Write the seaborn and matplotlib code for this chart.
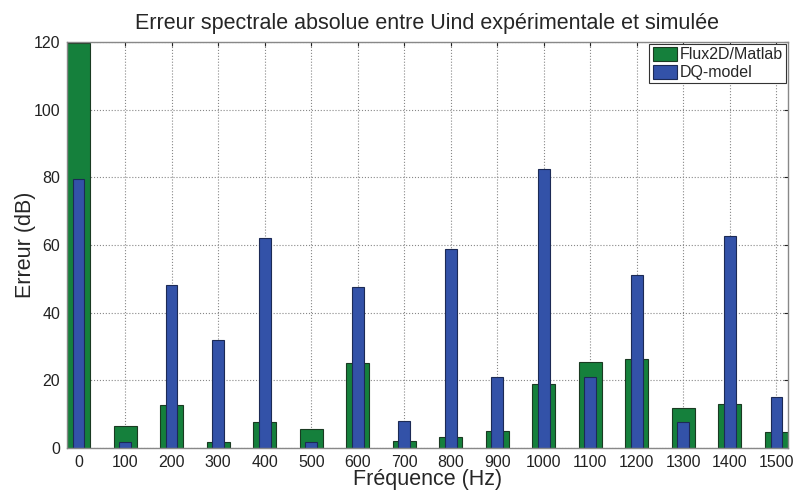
import pandas as pd
import seaborn as sns
import matplotlib.pyplot as plt

# spectral error per frequency
freqs = [0, 100, 200, 300, 400, 500, 600, 700, 800, 900, 1000, 1100, 1200, 1300, 1400, 1500]
flux2d = [119.6, 6.6, 12.7, 1.9, 7.8, 5.5, 25.1, 2.0, 3.2, 5.0, 18.8, 25.5, 26.3, 11.8, 12.9, 4.8]
dq_model = [79.4, 1.7, 48.3, 32.0, 62.0, 1.7, 47.6, 8.1, 58.7, 21.1, 82.6, 21.1, 51.2, 7.7, 62.8, 15.2]

df = pd.DataFrame({'freq': freqs, 'flux': flux2d, 'dq': dq_model})

sns.set_style("white")
plt.rcParams['font.family'] = ['Liberation Sans', 'DejaVu Sans']

fig = plt.figure(figsize=(7.94, 4.90), dpi=100)
ax = fig.add_axes([0.0844, 0.0857, 0.908, 0.8286])

sns.barplot(data=df, x='freq', y='flux', native_scale=True, width=0.5,
            color='#15803c', saturation=1, edgecolor='#1a3a22', linewidth=0.8,
            label='Flux2D/Matlab', ax=ax)
sns.barplot(data=df, x='freq', y='dq', native_scale=True, width=0.25,
            color='#3352a8', saturation=1, edgecolor='#1c2a55', linewidth=0.8,
            label='DQ-model', ax=ax)

ax.set_xlim(-25, 1525)
ax.set_ylim(0, 120)
ax.set_xticks(freqs)
ax.set_yticks(range(0, 121, 20))
ax.tick_params(direction='in', labelsize=11.5, length=3, colors='#222222',
               top=True, right=True, pad=5)
ax.grid(True, linestyle=':', color='#888888', linewidth=0.8)
ax.set_axisbelow(True)
for s in ax.spines.values():
    s.set_color('#888888')
    s.set_linewidth(1.0)

ax.set_title("Erreur spectrale absolue entre Uind expérimentale et simulée", fontsize=15.5, pad=9)
ax.set_xlabel("Fréquence (Hz)", fontsize=15.5, labelpad=-1)
ax.set_ylabel("Erreur (dB)", fontsize=15.5, labelpad=-2)

leg = ax.legend(loc='upper right', fontsize=11.5, fancybox=False, framealpha=1,
                edgecolor='#333333', borderpad=0.2, handlelength=1.5, handleheight=0.95,
                handletextpad=0.2, labelspacing=0.15, borderaxespad=0.12)
leg.get_frame().set_linewidth(0.8)

plt.savefig('out.png', dpi=100)
